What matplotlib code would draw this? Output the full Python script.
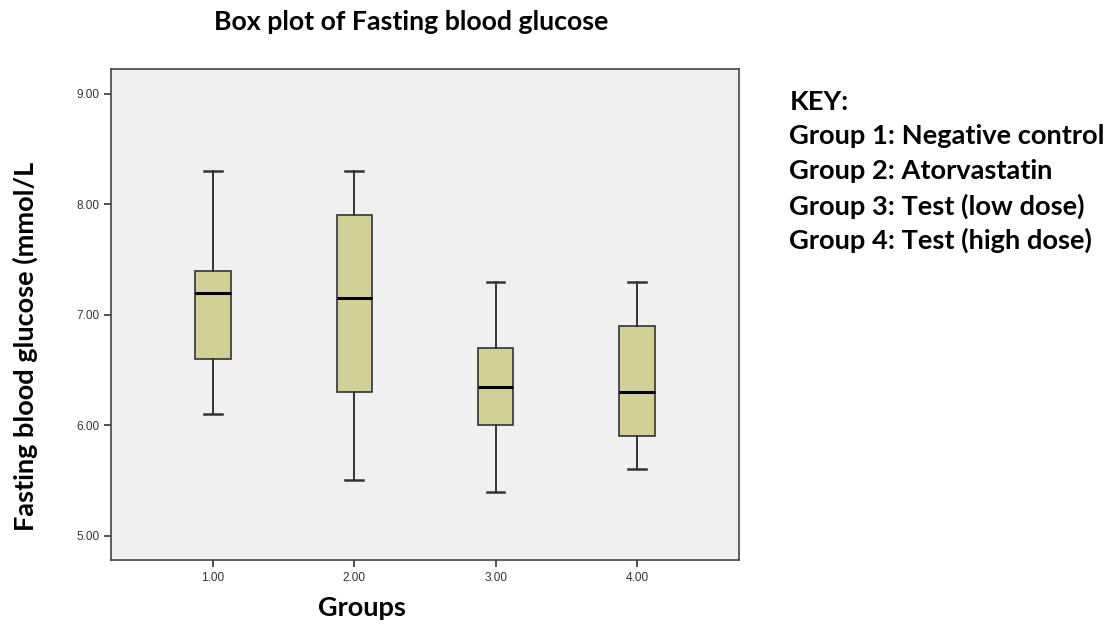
import matplotlib
matplotlib.use("Agg")
import matplotlib.pyplot as plt

# Valores (mmol/L)
groups = [1, 2, 3, 4]
group_labels = ["1.00", "2.00", "3.00", "4.00"]
whisker_low = [6.1, 5.5, 5.4, 5.6]
q1 = [6.6, 6.3, 6.0, 5.9]
median = [7.2, 7.15, 6.35, 6.3]
q3 = [7.4, 7.9, 6.7, 6.9]
whisker_high = [8.3, 8.3, 7.3, 7.3]

y_ticks = [5.0, 6.0, 7.0, 8.0, 9.0]

key_lines = ["KEY:",
             "Group 1: Negative control",
             "Group 2: Atorvastatin",
             "Group 3: Test (low dose)",
             "Group 4: Test (high dose)"]

stats = []
for i in range(len(groups)):
    stats.append({"whislo": whisker_low[i], "q1": q1[i], "med": median[i],
                  "q3": q3[i], "whishi": whisker_high[i], "fliers": []})

fig = plt.figure(figsize=(11.15, 6.27), dpi=100)
ax = fig.add_axes([0.0996, 0.1069, 0.563, 0.7831])
ax.set_facecolor("#f0f0f0")

edge = "#333333"
ax.bxp(stats, positions=groups, widths=0.25, patch_artist=True,
       showfliers=False,
       boxprops=dict(facecolor="#d3d097", edgecolor=edge, linewidth=1.2),
       medianprops=dict(color="black", linewidth=2.2),
       whiskerprops=dict(color=edge, linewidth=1.4),
       capprops=dict(color=edge, linewidth=1.8),
       capwidths=0.125)

ax.set_xlim(0.28, 4.72)
ax.set_ylim(4.78, 9.226)
ax.set_xticks(groups)
ax.set_xticklabels(group_labels)
ax.set_yticks(y_ticks)
ax.set_yticklabels([f"{v:.2f}" for v in y_ticks])
ax.tick_params(axis="both", labelsize=8.5, colors="#333333", length=5, width=1.2,
               direction="out")
for lab in ax.get_xticklabels() + ax.get_yticklabels():
    lab.set_family(["Liberation Sans", "DejaVu Sans"])
for s in ax.spines.values():
    s.set_color("#444444")
    s.set_linewidth(1.2)

bold = dict(family=["Lato", "DejaVu Sans"], fontweight="bold")
fig.text(0.3686, 0.965, "Box plot of Fasting blood glucose", ha="center",
         va="center", fontsize=19.3, **bold)
fig.text(0.325, 0.03, "Groups", ha="center", va="center", fontsize=19.5, **bold)
fig.text(0.023, 0.447, "Fasting blood glucose (mmol/L", rotation=90,
         ha="center", va="center", fontsize=19.5, **bold)

for k, line in enumerate(key_lines):
    fig.text(0.708, 0.838 - k * 0.0555, line, ha="left", va="center",
             fontsize=19.6, **bold)

fig.savefig("out.png", dpi=100)
